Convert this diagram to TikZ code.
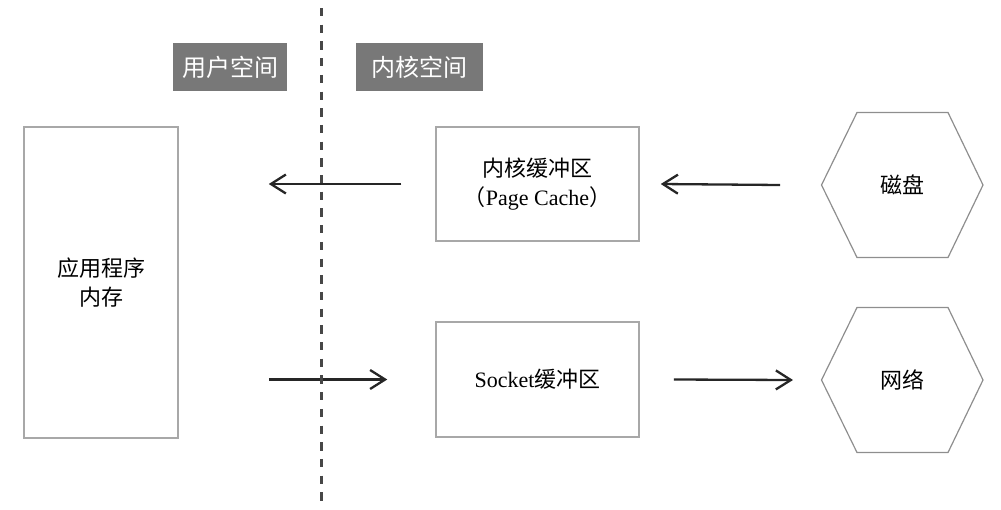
\documentclass[tikz,border=0pt]{standalone}
\usepackage{fontspec}
\setmainfont{Liberation Serif}
\newfontfamily\cjk{Noto Sans CJK SC}
\usetikzlibrary{arrows.meta,calc}
\definecolor{boxline}{HTML}{A8A8A8}
\definecolor{hexline}{HTML}{8E8E8E}
\definecolor{labelfill}{HTML}{787878}
\definecolor{dashcol}{HTML}{474747}
\definecolor{arrowcol}{HTML}{262626}
\tikzset{
  membox/.style={draw=boxline, line width=1.5pt, fill=white, inner sep=0pt,
    align=center, font=\fontsize{22}{29}\selectfont},
  tag/.style={fill=labelfill, text=white, inner sep=0pt, minimum height=48pt,
    font=\fontsize{24}{28}\selectfont\cjk},
  hexline/.style={draw=hexline, line width=1.2pt},
  flow/.style={draw=arrowcol, line width=2.3pt, -{Straight Barb[length=15pt,width=19pt,line width=2.3pt]}},
  hextext/.style={font=\fontsize{22}{26}\selectfont\cjk, inner sep=0pt}
}
\begin{document}
\begin{tikzpicture}[x=1pt,y=-1pt]
\useasboundingbox (0,0) rectangle (1001,509);
% divider
\coordinate (dtop) at (321,8);
\coordinate (dbot) at (321,504);
% boxes
\node[membox, minimum width=154pt, minimum height=311pt] (app) at (101,282.5)
  {\cjk 应用程序\\\cjk 内存};
\node[membox, minimum width=203pt, minimum height=114pt] (pc) at (537.5,184)
  {{\cjk 内核缓冲区}\\{\cjk （}Page Cache{\cjk ）}};
\node[membox, minimum width=203pt, minimum height=115pt] (sock) at (537.5,379.5)
  {Socket{\cjk 缓冲区}};
% labels
\node[tag, minimum width=114pt] (user) at (230,67) {用户空间};
\node[tag, minimum width=127pt] (kern) at (419.5,67) {内核空间};
% hexagons
\node[hextext] (disk) at (902,185) {磁盘};
\node[hextext] (net) at (902,380) {网络};
\draw[hexline] ($(disk)+(-80.5,0)$) -- ($(disk)+(-45,-72.5)$) -- ($(disk)+(46,-72.5)$)
  -- ($(disk)+(81,0)$) -- ($(disk)+(46,72.5)$) -- ($(disk)+(-45,72.5)$) -- cycle;
\draw[hexline] ($(net)+(-80.5,0)$) -- ($(net)+(-45,-72.5)$) -- ($(net)+(46,-72.5)$)
  -- ($(net)+(81,0)$) -- ($(net)+(46,72.5)$) -- ($(net)+(-45,72.5)$) -- cycle;
% arrow endpoints
\coordinate (a1s) at ($(pc.west)+(-34,0)$);
\coordinate (a1e) at ($(app.east |- pc.west)+(90,0)$);
\coordinate (a2s) at ($(disk)+(-122,0)$);
\coordinate (a2e) at ($(pc.east)+(21,0)$);
\coordinate (a3s) at ($(app.east |- sock.west)+(90,0)$);
\coordinate (a3e) at ($(sock.west)+(-48,0)$);
\coordinate (a4s) at ($(sock.east)+(34,0)$);
\coordinate (a4e) at ($(net)+(-109,0)$);
\draw[flow] (a1s) -- (a1e);
\draw[flow] (a2s) -- (a2e);
\draw[flow] (a3s) -- (a3e);
\draw[flow] (a4s) -- (a4e);
\draw[draw=dashcol, line width=3pt, dash pattern=on 8.3pt off 8.4pt] (dtop) -- (dbot);
\end{tikzpicture}
\end{document}
